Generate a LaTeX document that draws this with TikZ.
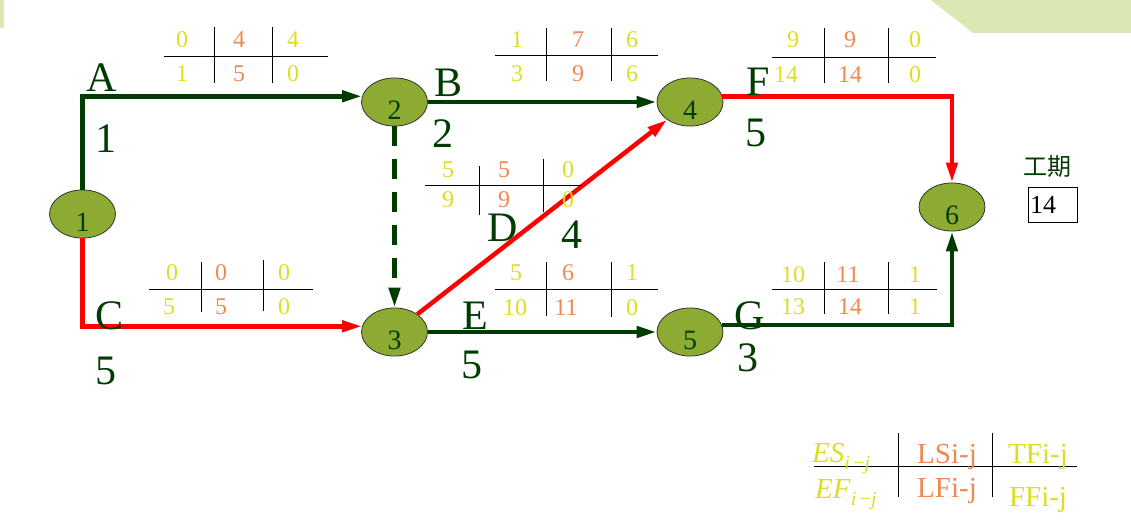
\documentclass[tikz,border=0pt]{standalone}
\usepackage{fontspec}
\setmainfont{Liberation Serif}
\newfontfamily\cjk{Noto Sans CJK SC}
\usepackage{tikz}
\usetikzlibrary{arrows.meta, shapes.geometric}
\definecolor{dkgreen}{RGB}{0,60,0}
\definecolor{nodegreen}{RGB}{141,170,50}
\definecolor{numyellow}{RGB}{221,221,34}
\definecolor{numorange}{RGB}{240,136,80}
\definecolor{decogreen}{RGB}{220,232,180}
\begin{document}
\begin{tikzpicture}[x=1pt, y=-1pt,
  event/.style={ellipse, draw=black!80, line width=0.8pt, fill=nodegreen, minimum width=66pt, minimum height=48pt, inner sep=0pt, text=dkgreen, font=\fontsize{28}{28}\selectfont, text height=34pt, text depth=0pt},
  act/.style={text=dkgreen, font=\fontsize{42}{42}\selectfont, inner sep=0pt},
  es/.style={text=numyellow, font=\fontsize{24}{24}\selectfont, inner sep=0pt},
  ls/.style={text=numorange, font=\fontsize{24}{24}\selectfont, inner sep=0pt},
  leg/.style={font=\fontsize{29}{29}\selectfont, inner sep=0pt},
  tabline/.style={black, line width=0.8pt},
  normal/.style={dkgreen, line width=4.5pt, -{Triangle[length=20pt, width=11pt]}},
  crit/.style={red, line width=4.5pt, -{Triangle[length=20pt, width=11pt]}}]
  \useasboundingbox (0,0) rectangle (1131,525);
  \fill[decogreen] (0,0) rectangle (4,28);
  \fill[decogreen] (931,0) -- (973,33) -- (1131,33) -- (1131,0) -- cycle;
  \node[event] (n1) at (82.5,214) {1};
  \node[event] (n2) at (394.5,102) {2};
  \node[event] (n3) at (394.5,332) {3};
  \node[event] (n4) at (690,102) {4};
  \node[event] (n5) at (690,332) {5};
  \node[event] (n6) at (952,207) {6};
  \draw[normal] (n1.north) |- (n2.170);
  \draw[normal] (n2) -- (n4);
  \draw[normal, dash pattern=on 20pt off 13pt] (n2) -- (n3);
  \draw[crit] (n1.south) |- (n3.170);
  \draw[crit] (n3) -- (n4);
  \draw[normal] (n3) -- (n5);
  \draw[crit] (n4.10) -| (n6.north);
  \draw[normal] (n5.12) -| (n6.south);
  \node[act] (actA) at (102,78) {A};
  \node[act] (durA) at (106,139) {1};
  \node[act] (actB) at (448,83) {B};
  \node[act] (durB) at (443,134) {2};
  \node[act] (actD) at (503,228) {D};
  \node[act] (durD) at (572,235) {4};
  \node[act] (actF) at (758,82) {F};
  \node[act] (durF) at (756,133) {5};
  \node[act] (actC) at (110,316) {C};
  \node[act] (durC) at (106,371) {5};
  \node[act] (actE) at (475,316) {E};
  \node[act] (durE) at (472,365) {5};
  \node[act] (actG) at (750,316) {G};
  \node[act] (durG) at (748,358) {3};
  \draw[tabline] (164,56) -- (328,56);
  \draw[tabline] (214,27) -- (214,83);
  \draw[tabline] (272,27) -- (272,83);
  \node[es] (esA) at (182,40) {0};
  \node[ls] (lsA) at (239,40) {4};
  \node[es] (tfA) at (293,40) {4};
  \node[es] (efA) at (182,74) {1};
  \node[ls] (lfA) at (239,74) {5};
  \node[es] (ffA) at (293,74) {0};
  \draw[tabline] (495,55) -- (658,55);
  \draw[tabline] (546,28) -- (546,81);
  \draw[tabline] (611,28) -- (611,81);
  \node[es] (esB) at (517,40) {1};
  \node[ls] (lsB) at (578,40) {7};
  \node[es] (tfB) at (632,40) {6};
  \node[es] (efB) at (517,74) {3};
  \node[ls] (lfB) at (578,74) {9};
  \node[es] (ffB) at (632,74) {6};
  \draw[tabline] (772,57) -- (936,57);
  \draw[tabline] (824,28) -- (824,83);
  \draw[tabline] (888,28) -- (888,83);
  \node[es] (esF) at (793,40) {9};
  \node[ls] (lsF) at (850,40) {9};
  \node[es] (tfF) at (915,40) {0};
  \node[es] (efF) at (786,75) {14};
  \node[ls] (lfF) at (850,75) {14};
  \node[es] (ffF) at (915,75) {0};
  \draw[tabline] (425,185) -- (582,185);
  \draw[tabline] (479,166) -- (479,215);
  \draw[tabline] (543,159) -- (543,212);
  \node[es] (esD) at (448,170) {5};
  \node[ls] (lsD) at (504,170) {5};
  \node[es] (tfD) at (568,170) {0};
  \node[es] (efD) at (448,200) {9};
  \node[ls] (lfD) at (504,200) {9};
  \node[es] (ffD) at (568,200) {0};
  \draw[tabline] (149,289) -- (313,289);
  \draw[tabline] (201,262) -- (201,312);
  \draw[tabline] (263,260) -- (263,311);
  \node[es] (esC) at (172,273) {0};
  \node[ls] (lsC) at (221,273) {0};
  \node[es] (tfC) at (284,273) {0};
  \node[es] (efC) at (169,307) {5};
  \node[ls] (lfC) at (221,307) {5};
  \node[es] (ffC) at (284,307) {0};
  \draw[tabline] (495,289) -- (658,289);
  \draw[tabline] (546,262) -- (546,316);
  \draw[tabline] (611,262) -- (611,317);
  \node[es] (esE) at (516,273) {5};
  \node[ls] (lsE) at (568,273) {6};
  \node[es] (tfE) at (632,273) {1};
  \node[es] (efE) at (515,308) {10};
  \node[ls] (lfE) at (566,308) {11};
  \node[es] (ffE) at (632,308) {0};
  \draw[tabline] (772,289) -- (937,289);
  \draw[tabline] (824,262) -- (824,314);
  \draw[tabline] (888,262) -- (888,314);
  \node[es] (esG) at (793,275) {10};
  \node[ls] (lsG) at (848,275) {11};
  \node[es] (tfG) at (915,275) {1};
  \node[es] (efG) at (793,307) {13};
  \node[ls] (lfG) at (850,307) {14};
  \node[es] (ffG) at (915,307) {1};
  \node[text=dkgreen, font=\cjk\fontsize{24}{24}\selectfont, inner sep=0pt] (period) at (1047,167) {工期};
  \node[draw, line width=0.8pt, minimum width=49pt, minimum height=35pt, inner sep=2pt, text width=45pt, align=left, font=\fontsize{26}{26}\selectfont] (total) at (1052.5,204.5) {14};
  \draw[tabline] (814,466) -- (1077,466);
  \draw[tabline] (898,433) -- (898,497);
  \draw[tabline] (992,433) -- (992,497);
  \node[leg, text=numyellow, anchor=base west] (legES) at (812,462) {\textit{ES}\raisebox{-7pt}{\fontsize{20}{20}\selectfont\textit{i}\,−\textit{j}}};
  \node[leg, text=numyellow, anchor=base west] (legEF) at (815,498) {\textit{EF}\raisebox{-7pt}{\fontsize{20}{20}\selectfont\textit{i}\,−\textit{j}}};
  \node[leg, text=numorange, anchor=base] (legLS) at (947,463) {LSi-j};
  \node[leg, text=numorange, anchor=base] (legLF) at (947,497) {LFi-j};
  \node[leg, text=numyellow, anchor=base] (legTF) at (1038,463) {TFi-j};
  \node[leg, text=numyellow, anchor=base] (legFF) at (1038,506) {FFi-j};
\end{tikzpicture}
\end{document}
